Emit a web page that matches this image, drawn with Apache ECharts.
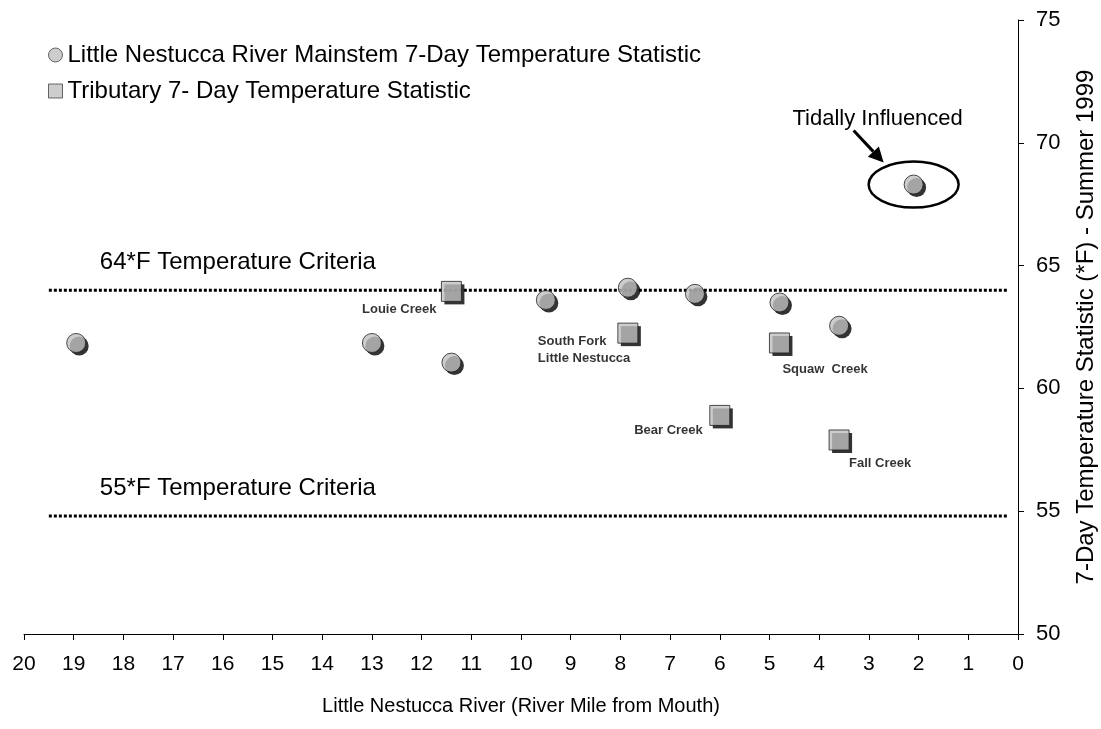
<!DOCTYPE html>
<html><head><meta charset="utf-8">
<script src="https://cdn.jsdelivr.net/npm/echarts@6/dist/echarts.min.js"></script>
<style>html,body{margin:0;padding:0;background:#fff}#c{width:1101px;height:729px}</style>
</head><body><div id="c"></div>
<script>
// ---- data ----
const mainName = 'Little Nestucca River Mainstem 7-Day Temperature Statistic';
const tribName = 'Tributary 7- Day Temperature Statistic';
const mainX = [18.95, 13.0, 11.4, 9.5, 7.85, 6.5, 4.8, 3.6, 2.1];
const mainY = [61.85, 61.85, 61.05, 63.6, 64.1, 63.85, 63.5, 62.55, 68.3];
const tribNames = ['Louie Creek', 'South Fork\nLittle Nestucca', 'Squaw  Creek', 'Bear Creek', 'Fall Creek'];
const tribX = [11.4, 7.85, 4.8, 6.0, 3.6];
const tribY = [63.95, 62.25, 61.85, 58.9, 57.9];
const critX = [19.5, 0.2];
const crit64 = 64;
const crit55 = 54.8;
const crit64Label = '64*F Temperature Criteria';
const crit55Label = '55*F Temperature Criteria';
const tidalLabel = 'Tidally Influenced';
const tidalIndex = 8;
const xAxisName = 'Little Nestucca River (River Mile from Mouth)';
const yAxisName = '7-Day Temperature Statistic (*F) - Summer 1999';

// ---- styles ----
const FONT = "'Liberation Sans', Arial, sans-serif";
const labelPlace = {
  'Louie Creek': {align: 'right', offset: [-15, 18]},
  'South Fork\nLittle Nestucca': {align: 'left', offset: [-90, 17]},
  'Squaw  Creek': {align: 'left', offset: [3, 26]},
  'Bear Creek': {align: 'right', offset: [-17, 15]},
  'Fall Creek': {align: 'left', offset: [10, 23]}
};
const markStyle = {color: '#C0C0C0', borderColor: '#222', borderWidth: 1};
const shadowStyle = {color: '#000', borderWidth: 0};

const chart = echarts.init(document.getElementById('c'), null, {renderer: 'canvas'});

const option = {
  animation: false,
  backgroundColor: '#fff',
  textStyle: {fontFamily: FONT},
  grid: {left: 24, right: 83, top: 20, bottom: 95, containLabel: false, outerBoundsMode: 'none'},
  legend: {
    orient: 'vertical', left: 43, top: 38, itemGap: 12,
    itemWidth: 14, itemHeight: 14,
    data: [{name: mainName, icon: 'circle'}, {name: tribName, icon: 'rect'}],
    itemStyle: {borderColor: '#444', borderWidth: 1},
    textStyle: {fontSize: 24, color: '#000', fontFamily: FONT}
  },
  xAxis: {
    type: 'value', min: 0, max: 20, interval: 1, inverse: true,
    name: xAxisName, nameLocation: 'middle', nameGap: 62,
    nameTextStyle: {fontSize: 20, color: '#000', fontFamily: FONT},
    axisLine: {show: true, onZero: false, lineStyle: {color: '#000', width: 1}},
    axisTick: {show: true, inside: false, length: 6, lineStyle: {color: '#000'}},
    axisLabel: {fontSize: 21, color: '#000', margin: 20, fontFamily: FONT},
    splitLine: {show: false}
  },
  yAxis: {
    type: 'value', position: 'right', min: 50, max: 75, interval: 5,
    name: yAxisName, nameLocation: 'middle', nameGap: 56, nameRotate: 90,
    nameTextStyle: {fontSize: 24, color: '#000', fontFamily: FONT},
    axisLine: {show: true, onZero: false, lineStyle: {color: '#000', width: 1}},
    axisTick: {show: true, inside: false, length: 6, lineStyle: {color: '#000'}},
    axisLabel: {fontSize: 22, color: '#000', margin: 18, fontFamily: FONT},
    splitLine: {show: false}
  },
  series: [
    {
      name: '64crit', type: 'line', silent: true, symbol: 'none', z: 1,
      data: critX.map(x => [x, crit64]),
      lineStyle: {color: '#000', width: 3, type: [3, 2]}
    },
    {
      name: '55crit', type: 'line', silent: true, symbol: 'none', z: 1,
      data: critX.map(x => [x, crit55]),
      lineStyle: {color: '#000', width: 3, type: [3, 2]}
    },
    {
      name: 'mainShadow', type: 'scatter', symbol: 'circle', symbolSize: 19, symbolOffset: [3, 3],
      silent: true, z: 2, itemStyle: shadowStyle,
      data: mainX.map((x, i) => [x, mainY[i]])
    },
    {
      name: 'tribShadow', type: 'scatter', symbol: 'rect', symbolSize: 20, symbolOffset: [3, 3],
      silent: true, z: 2, itemStyle: shadowStyle,
      data: tribX.map((x, i) => [x, tribY[i]])
    },
    {
      name: mainName, type: 'scatter', symbol: 'circle', symbolSize: 19, z: 3,
      itemStyle: markStyle,
      data: mainX.map((x, i) => [x, mainY[i]])
    },
    {
      name: tribName, type: 'scatter', symbol: 'rect', symbolSize: 20, z: 3,
      itemStyle: markStyle,
      data: tribX.map((x, i) => ({
        name: tribNames[i], value: [x, tribY[i]],
        label: {
          show: true, position: 'inside', formatter: '{b}',
          align: labelPlace[tribNames[i]].align, verticalAlign: 'middle',
          offset: labelPlace[tribNames[i]].offset,
          fontSize: 13, fontWeight: 'bold', color: '#000', lineHeight: 17, fontFamily: FONT
        }
      }))
    }
  ]
};
chart.setOption(option);

// annotations anchored to data coordinates
const p64 = chart.convertToPixel({gridIndex: 0}, [critX[0], crit64]);
const p55 = chart.convertToPixel({gridIndex: 0}, [critX[0], crit55]);
const pt = chart.convertToPixel({gridIndex: 0}, [mainX[tidalIndex], mainY[tidalIndex]]);
const a1 = [pt[0] - 60, pt[1] - 54], a2 = [pt[0] - 30, pt[1] - 22];
const dx = a2[0] - a1[0], dy = a2[1] - a1[1], L = Math.hypot(dx, dy);
const ux = dx / L, uy = dy / L, nx = -uy, ny = ux;
const hl = 15, hw = 7.5;
const base = [a2[0] - ux * hl, a2[1] - uy * hl];
chart.setOption({
  graphic: [
    {type: 'text', x: p64[0] + 51, y: p64[1] - 28, z: 10,
      style: {text: crit64Label, fontSize: 24, fill: '#000', fontFamily: FONT, verticalAlign: 'middle'}},
    {type: 'text', x: p55[0] + 51, y: p55[1] - 28, z: 10,
      style: {text: crit55Label, fontSize: 24, fill: '#000', fontFamily: FONT, verticalAlign: 'middle'}},
    {type: 'text', x: pt[0] - 36, y: pt[1] - 66, z: 10,
      style: {text: tidalLabel, fontSize: 22, fill: '#000', fontFamily: FONT, align: 'center', verticalAlign: 'middle'}},
    {type: 'ellipse', z: 10, shape: {cx: pt[0], cy: pt[1], rx: 45, ry: 23},
      style: {fill: 'none', stroke: '#000', lineWidth: 2.5}},
    {type: 'line', z: 10, shape: {x1: a1[0], y1: a1[1], x2: base[0], y2: base[1]},
      style: {stroke: '#000', lineWidth: 3}},
    {type: 'polygon', z: 10, shape: {points: [a2, [base[0] + nx * hw, base[1] + ny * hw], [base[0] - nx * hw, base[1] - ny * hw]]},
      style: {fill: '#000'}}
  ]
});
</script></body></html>
